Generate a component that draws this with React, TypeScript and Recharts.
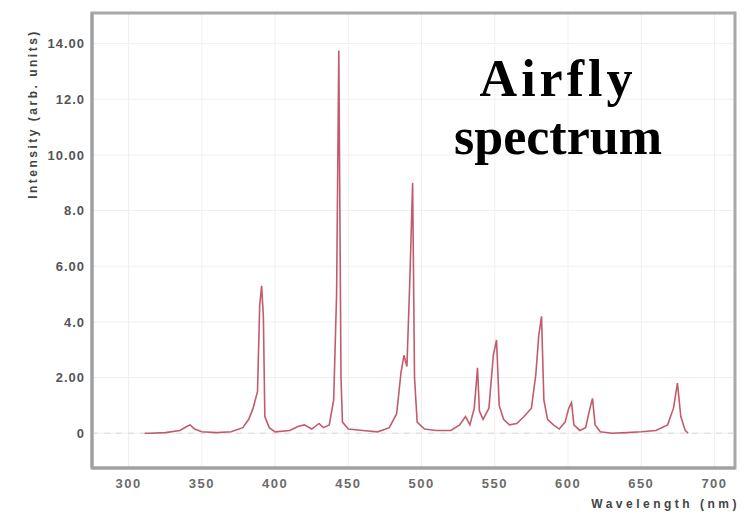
import React from "react";
import {
  LineChart,
  Line,
  XAxis,
  YAxis,
  CartesianGrid,
  ReferenceArea,
  ReferenceLine,
  Label,
} from "recharts";

// wavelength (nm) / intensity
const wavelengths = [
  311, 315, 325, 335, 340, 342, 345, 350, 360, 370, 378, 382, 385, 388, 389.5, 390.8, 392, 393, 396,
  400, 410, 416, 420, 425, 430, 433, 437, 440, 442, 443.5, 445, 446, 450, 460, 470, 478, 483, 486,
  488, 490, 492, 493.9, 495.2, 497, 502, 510, 520, 526, 530, 533, 536, 538.2, 539.5, 542, 546, 549,
  551.2, 553, 556, 560, 565, 570, 575, 578, 580, 581.9, 583.5, 586, 590, 594, 598, 600.5, 602.4,
  604, 608, 612, 615, 616.7, 618.5, 622, 630, 640, 650, 660, 668, 672, 674.7, 677, 680, 682,
];
const intensity = [
  0, 0, 0.02, 0.1, 0.25, 0.3, 0.15, 0.05, 0.02, 0.05, 0.2, 0.5, 0.9, 1.5, 4.6, 5.3, 4.2, 0.6, 0.2,
  0.05, 0.1, 0.25, 0.3, 0.15, 0.35, 0.2, 0.3, 1.2, 5.0, 13.75, 2.0, 0.4, 0.15, 0.1, 0.05, 0.2, 0.7, 2.2,
  2.8, 2.4, 5.5, 9.0, 2.0, 0.4, 0.15, 0.1, 0.1, 0.3, 0.6, 0.3, 0.9, 2.35, 0.8, 0.5, 0.9, 2.8,
  3.35, 1.0, 0.5, 0.3, 0.35, 0.6, 0.9, 2.1, 3.5, 4.2, 1.2, 0.5, 0.3, 0.15, 0.4, 0.9, 1.1,
  0.3, 0.1, 0.2, 0.9, 1.25, 0.3, 0.05, 0, 0.02, 0.05, 0.1, 0.3, 0.9, 1.8, 0.6, 0.1, 0,
];

const xTicks = [300, 350, 400, 450, 500, 550, 600, 650, 700];
const yTicks = [0, 2, 4, 6, 8, 10, 12, 14];
const yTickLabels = ["0", "2.00", "4.0", "6.00", "8.0", "10.00", "12.0", "14.00"];

const data = wavelengths.map((wl, i) => ({ wl, value: intensity[i] }));

const axisFont = "'Liberation Sans', Arial, sans-serif";

export default function App() {
  return (
    <div style={{ position: "absolute", left: 0, top: 0, width: 745, height: 515, background: "#fff" }}>
      <LineChart
        width={745}
        height={515}
        data={data}
        margin={{ top: 13, right: 10, bottom: 17, left: 0 }}
      >
        <CartesianGrid stroke="#f1eef0" />
        <XAxis
          dataKey="wl"
          type="number"
          domain={[275, 714]}
          ticks={xTicks}
          height={30}
          stroke="#a0a0a0"
          strokeWidth={3}
          tickLine={false}
          tickMargin={5}
          tick={{ fontSize: 13, fontWeight: 700, fill: "#6b6b6b", fontFamily: axisFont, letterSpacing: 1.5 }}
        >
          <Label
            content={() => (
              <text
                x={740}
                y={508}
                textAnchor="end"
                fontSize={12}
                fontWeight={700}
                fill="#444"
                letterSpacing={3.5}
                fontFamily={axisFont}
              >
                Wavelength (nm)
              </text>
            )}
          />
        </XAxis>
        <YAxis
          type="number"
          domain={[-1.25, 15.1]}
          ticks={yTicks}
          width={92}
          stroke="#a0a0a0"
          strokeWidth={3}
          tickLine={false}
          tickMargin={1}
          tickFormatter={(v) => yTickLabels[yTicks.indexOf(v)] ?? String(v)}
          tick={{ fontSize: 13, fontWeight: 700, fill: "#555", fontFamily: axisFont, letterSpacing: 1 }}
        >
          <Label
            content={() => (
              <text
                x={37}
                y={114}
                transform="rotate(-90 37 114)"
                textAnchor="middle"
                fontSize={12}
                fontWeight={700}
                fill="#444"
                letterSpacing={2.5}
                fontFamily={axisFont}
              >
                Intensity (arb. units)
              </text>
            )}
          />
        </YAxis>
        <ReferenceArea
          x1={275}
          x2={714}
          y1={-1.25}
          y2={15.1}
          fill="none"
          stroke="#a8a8a8"
          strokeWidth={3}
        />
        <ReferenceLine y={0} stroke="#d9d9d9" strokeDasharray="6 6" />
        <Line
          type="linear"
          dataKey="value"
          stroke="#c25c6c"
          strokeWidth={1.6}
          dot={false}
          isAnimationActive={false}
        />
      </LineChart>
      <div
        style={{
          position: "absolute",
          left: 430,
          top: 50,
          width: 256,
          textAlign: "center",
          fontFamily: "'Liberation Serif', 'Times New Roman', serif",
          fontWeight: 700,
          fontSize: 52,
          lineHeight: "58px",
          color: "#000",
        }}
      >
        <span style={{ letterSpacing: 4 }}>Airfly</span>
        <br />
        spectrum
      </div>
    </div>
  );
}
